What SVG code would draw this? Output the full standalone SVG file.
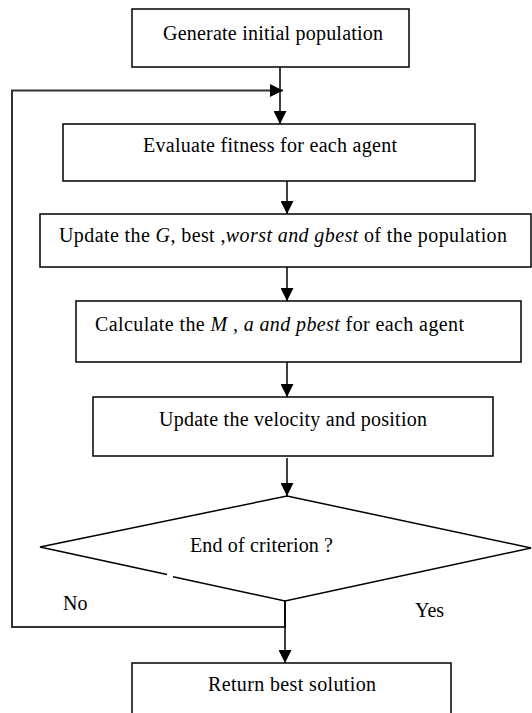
<svg xmlns="http://www.w3.org/2000/svg" width="532" height="713" viewBox="0 0 532 713">
<style>
.box{fill:#fff;stroke:#000;stroke-width:1.5}
.ln{fill:none;stroke:#000;stroke-width:1.5}
.lp{fill:none;stroke:#333;stroke-width:2}
text{font-family:'Liberation Serif','Times New Roman',serif;font-size:20px;fill:#000}
.i{font-style:italic}
</style>
<defs>
<marker id="ah" viewBox="0 0 10 10" refX="10" refY="5" markerWidth="13" markerHeight="13" markerUnits="userSpaceOnUse" orient="auto">
<path d="M0,0 L10,5 L0,10 Z" fill="#000"/>
</marker>
</defs>
<g id="connectors">
<line class="ln" x1="280" y1="67" x2="280" y2="124" marker-end="url(#ah)"/>
<polyline class="lp" points="285,601 285,627 12,627 12,90.5 283,90.5" marker-end="url(#ah)"/>
<line class="ln" x1="287" y1="181" x2="287" y2="214" marker-end="url(#ah)"/>
<line class="ln" x1="287" y1="267" x2="287" y2="301" marker-end="url(#ah)"/>
<line class="ln" x1="287" y1="362" x2="287" y2="397" marker-end="url(#ah)"/>
<line class="ln" x1="287" y1="458" x2="287" y2="496" marker-end="url(#ah)"/>
<line class="ln" x1="285" y1="601" x2="285" y2="663" marker-end="url(#ah)"/>
<text x="63" y="610">No</text>
<text x="415" y="617">Yes</text>
</g>
<g id="n1">
<rect class="box" x="132" y="9" width="277" height="58"/>
<text x="163" y="40" textLength="220">Generate initial population</text>
</g>
<g id="n2">
<rect class="box" x="63" y="124" width="412" height="57"/>
<text x="143" y="152" textLength="254">Evaluate fitness for each agent</text>
</g>
<g id="n3">
<rect class="box" x="40" y="214" width="491" height="53"/>
<text x="59" y="242" textLength="448">Update the <tspan class="i">G</tspan>, best ,<tspan class="i">worst  and gbest</tspan> of the population</text>
</g>
<g id="n4">
<rect class="box" x="76" y="301" width="445" height="61"/>
<text x="95" y="331" textLength="369">Calculate the <tspan class="i">M , a and pbest</tspan>  for each agent</text>
</g>
<g id="n5">
<rect class="box" x="93" y="397" width="400" height="59"/>
<text x="159" y="426" textLength="268">Update the velocity and position</text>
</g>
<g id="n6">
<polygon points="287,496 531,548 285,601 40,547" fill="#fff"/>
<path class="ln" d="M167,574.4 L40,547 L287,496 L531,548 L285,601 L173,576.7"/>
<text x="190" y="552" textLength="143">End of criterion ?</text>
</g>
<g id="n7">
<rect class="box" x="132" y="663" width="319" height="60"/>
<text x="208" y="691" textLength="168">Return best solution</text>
</g>
</svg>
